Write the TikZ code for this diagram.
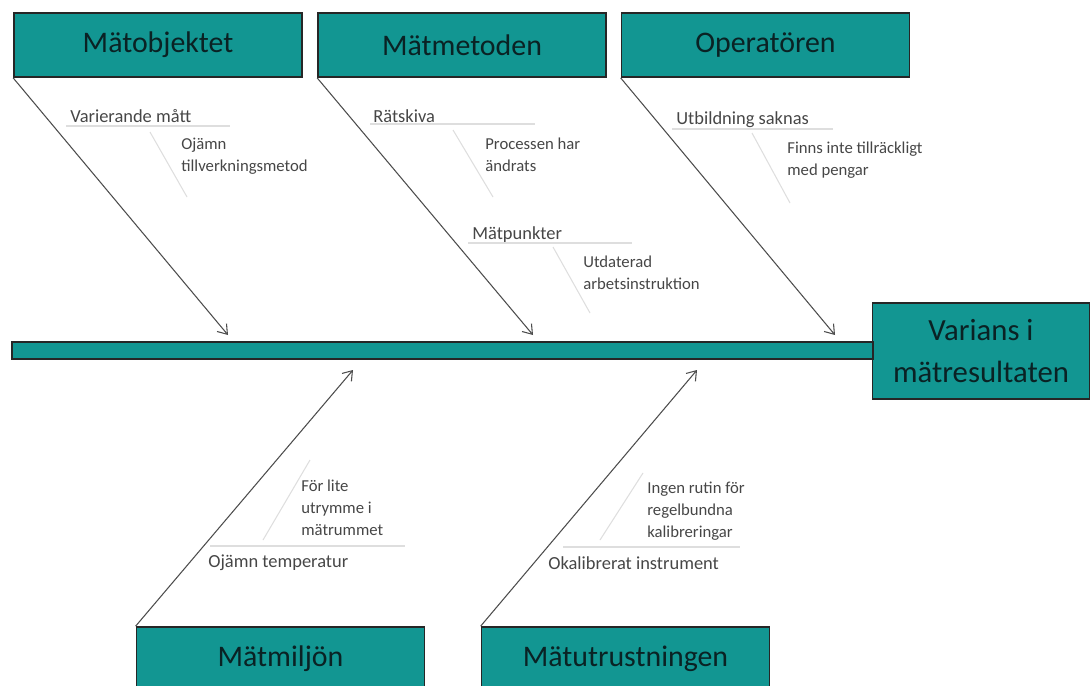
\documentclass[tikz,border=0pt]{standalone}
\usepackage{fontspec}
\setmainfont{Carlito}
\usetikzlibrary{arrows.meta}
\definecolor{teal1}{RGB}{18,150,146}
\definecolor{darktext}{RGB}{10,34,36}
\definecolor{subtext}{RGB}{70,70,70}
\definecolor{faint}{RGB}{222,222,222}

\begin{document}
\begin{tikzpicture}[x=0.02cm,y=-0.02cm]
		\tikzset{cause/.style={rectangle, draw=black!85, line width=1pt, fill=teal1, text=darktext, font=\fontsize{17}{20}\selectfont, minimum width=5.76cm, minimum height=1.28cm, inner sep=0pt},
		sub/.style={anchor=west, text=subtext, font=\fontsize{10.5}{12}\selectfont, inner sep=0pt},
		subsub/.style={anchor=north west, align=left, text=subtext, font=\fontsize{9.5}{12.5}\selectfont, inner sep=0pt},
		bone/.style={-{Straight Barb[length=5pt,width=7pt]}, draw=black!70, line width=0.6pt},
		twig/.style={draw=faint, line width=0.6pt}}
\clip (0,0) rectangle (1092,686);
\useasboundingbox (0,0) rectangle (1092,686);

\node[cause] (obj) at (158,45) {Mätobjektet};
\node[cause] (met) at (462,45) {Mätmetoden};
\node[cause] (op) at (765.5,45) {Operatören};
\node[cause] (milj) at (280.5,659) {Mätmiljön};
\node[cause] (utr) at (625.5,659) {Mätutrustningen};
\node[cause, minimum width=4.34cm, minimum height=1.92cm, align=center, font=\fontsize{17.5}{24}\selectfont] (eff) at (981,351) {Varians i\\mätresultaten};
\node[rectangle, draw=black!85, line width=1pt, fill=teal1, minimum width=17.22cm, minimum height=0.34cm, inner sep=0pt] (spine) at (442.5,350.5) {};

\coordinate (t1) at (228,335);
\coordinate (t2) at (533,335);
\coordinate (t3) at (835,335);
\coordinate (t4) at (353,370);
\coordinate (t5) at (697,370);

\foreach \from/\to in {obj/t1,met/t2,op/t3}
{
	\draw[bone] (\from.south west) -- (\to);
}
\foreach \from/\to in {milj/t4,utr/t5}
{
	\draw[bone] (\from.north west) -- (\to);
}

% upper side
\node[sub] (a1) at (70,116) {Varierande mått};
\draw[twig] (66,126) -- (230,126);
\draw[twig] (150,132) -- (187,197);
\node[subsub] (a2) at (181,138) {Ojämn\\tillverkningsmetod};

\node[sub] (b1) at (373,116) {Rätskiva};
\draw[twig] (370,124) -- (535,124);
\draw[twig] (453,130) -- (493,197);
\node[subsub] (b2) at (485,138) {Processen har\\ändrats};

\node[sub] (c1) at (472,235) {Mätpunkter};
\draw[twig] (468,243) -- (632,243);
\draw[twig] (553,247) -- (590,313);
\node[subsub] (c2) at (583,256) {Utdaterad\\arbetsinstruktion};

\node[sub] (d1) at (676,120) {Utbildning saknas};
\draw[twig] (672,129) -- (833,129);
\draw[twig] (752,133) -- (790,203);
\node[subsub] (d2) at (787,142) {Finns inte tillräckligt\\med pengar};

% lower side
\node[sub] (e1) at (208,563) {Ojämn temperatur};
\draw[twig] (210,546) -- (405,546);
\draw[twig] (263,540) -- (310,460);
\node[subsub] (e2) at (301,480) {För lite\\utrymme i\\mätrummet};

\node[sub] (f1) at (548,563) {Okalibrerat instrument};
\draw[twig] (563,547) -- (740,547);
\draw[twig] (600,540) -- (643,473);
\node[subsub] (f2) at (647,482) {Ingen rutin för\\regelbundna\\kalibreringar};

		\end{tikzpicture}
\end{document}
